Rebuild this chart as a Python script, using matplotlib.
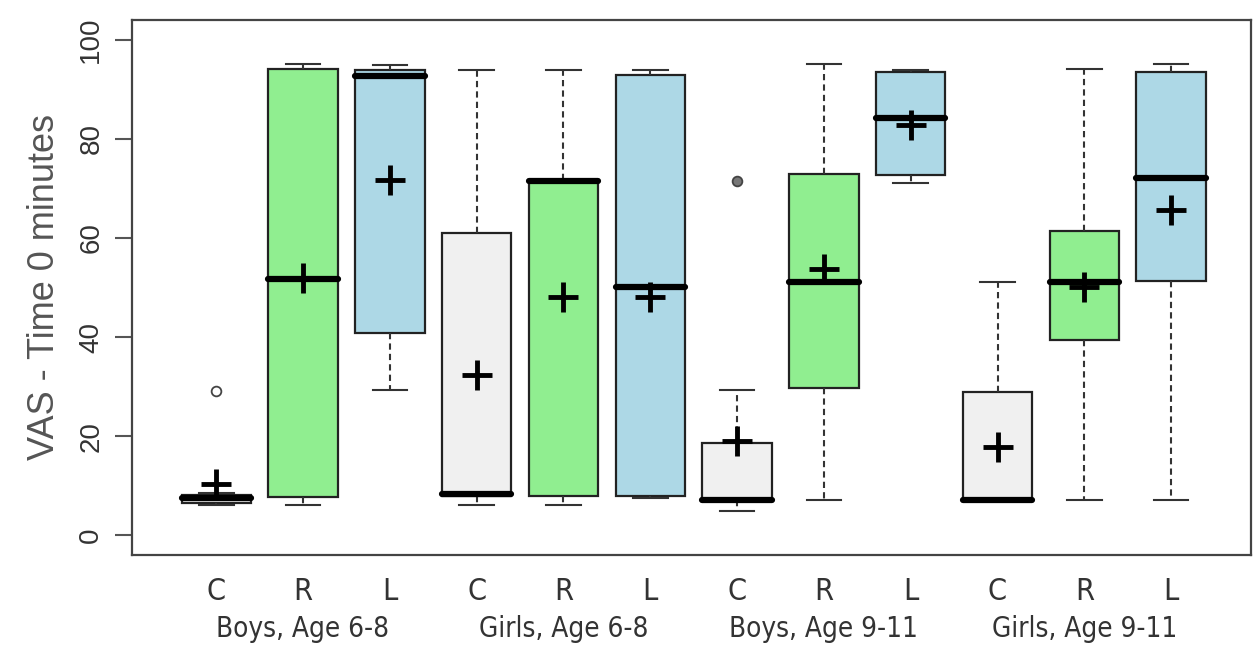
import matplotlib
matplotlib.use("Agg")
import matplotlib.pyplot as plt

# box statistics (VAS at time 0)
sub_labels = ["C", "R", "L"] * 4
groups = ["Boys, Age 6-8", "Girls, Age 6-8", "Boys, Age 9-11", "Girls, Age 9-11"]
whislo = [6.0, 6.0, 29.3, 6.0, 6.0, 7.5, 4.9, 7.2, 71.0, 7.0, 7.2, 7.2]
q1 = [6.5, 7.7, 40.9, 8.0, 7.9, 7.9, 7.0, 29.8, 72.8, 7.0, 39.4, 51.3]
med = [7.5, 51.8, 92.7, 8.4, 71.5, 50.2, 7.2, 51.1, 84.3, 7.0, 51.1, 72.2]
q3 = [8.2, 94.1, 94.0, 61.0, 71.8, 93.0, 18.6, 73.0, 93.6, 29.0, 61.5, 93.5]
whishi = [8.5, 95.2, 95.0, 94.0, 94.0, 94.0, 29.3, 95.2, 94.0, 51.1, 94.1, 95.2]
means = [10.4, 52.0, 71.7, 32.3, 48.0, 48.0, 19.0, 53.8, 82.8, 17.9, 50.2, 65.6]
fliers = [[29.2], [], [], [], [], [], [71.5], [], [], [], [], []]

fills = {"C": "#f0f0f0", "R": "#90ee90", "L": "#add8e6"}
narrow = ["Liberation Sans Narrow", "DejaVu Sans"]

stats = []
for i in range(12):
    stats.append(dict(label=sub_labels[i], whislo=whislo[i], q1=q1[i], med=med[i],
                      q3=q3[i], whishi=whishi[i], fliers=fliers[i]))

fig = plt.figure(figsize=(12.54, 6.52), dpi=100)
ax = fig.add_axes([0.1053, 0.1488, 0.8923, 0.8205])

pos = list(range(1, 13))
bp = ax.bxp(stats, positions=pos, widths=0.8, capwidths=0.4, patch_artist=True,
            showfliers=True,
            boxprops=dict(edgecolor="#222222", linewidth=1.6),
            medianprops=dict(color="black", linewidth=4.5, solid_capstyle="round"),
            whiskerprops=dict(color="#333333", linewidth=1.5, linestyle=(0, (3, 2))),
            capprops=dict(color="#333333", linewidth=1.5),
            flierprops=dict(marker="o", markersize=7, markerfacecolor="none",
                            markeredgecolor="#444444", markeredgewidth=1.3))
for patch, lab in zip(bp["boxes"], sub_labels):
    patch.set_facecolor(fills[lab])
bp["fliers"][6].set_markerfacecolor("#777777")

ax.plot(pos, means, linestyle="none", marker="+", markersize=21,
        markeredgewidth=3.5, color="black", zorder=5)

ax.set_xlim(0.03, 12.92)
ax.set_ylim(-4, 104)

ax.set_yticks([0, 20, 40, 60, 80, 100])
ax.set_yticklabels(["0", "20", "40", "60", "80", "100"], rotation=90,
                   va="center", fontsize=20, color="#333333",
                   family=["Liberation Sans", "DejaVu Sans"])
ax.tick_params(axis="y", length=12, width=1.5, color="#555555", pad=8)
ax.set_ylabel("VAS - Time 0 minutes", fontsize=26, color="#555555",
              family=["Liberation Sans", "DejaVu Sans"], labelpad=12)

ax.set_xticks(pos)
ax.set_xticklabels(sub_labels, fontsize=22, color="#333333",
                   family=narrow, fontstretch="condensed")
ax.tick_params(axis="x", length=0, pad=16)

for k, g in enumerate(groups):
    ax.text(3 * k + 2, -0.112, g, transform=ax.get_xaxis_transform(),
            ha="center", va="top", fontsize=20, color="#333333",
            family=narrow, fontstretch="condensed")

for sp in ax.spines.values():
    sp.set_color("#444444")
    sp.set_linewidth(1.6)

fig.savefig("out.png", dpi=100)
